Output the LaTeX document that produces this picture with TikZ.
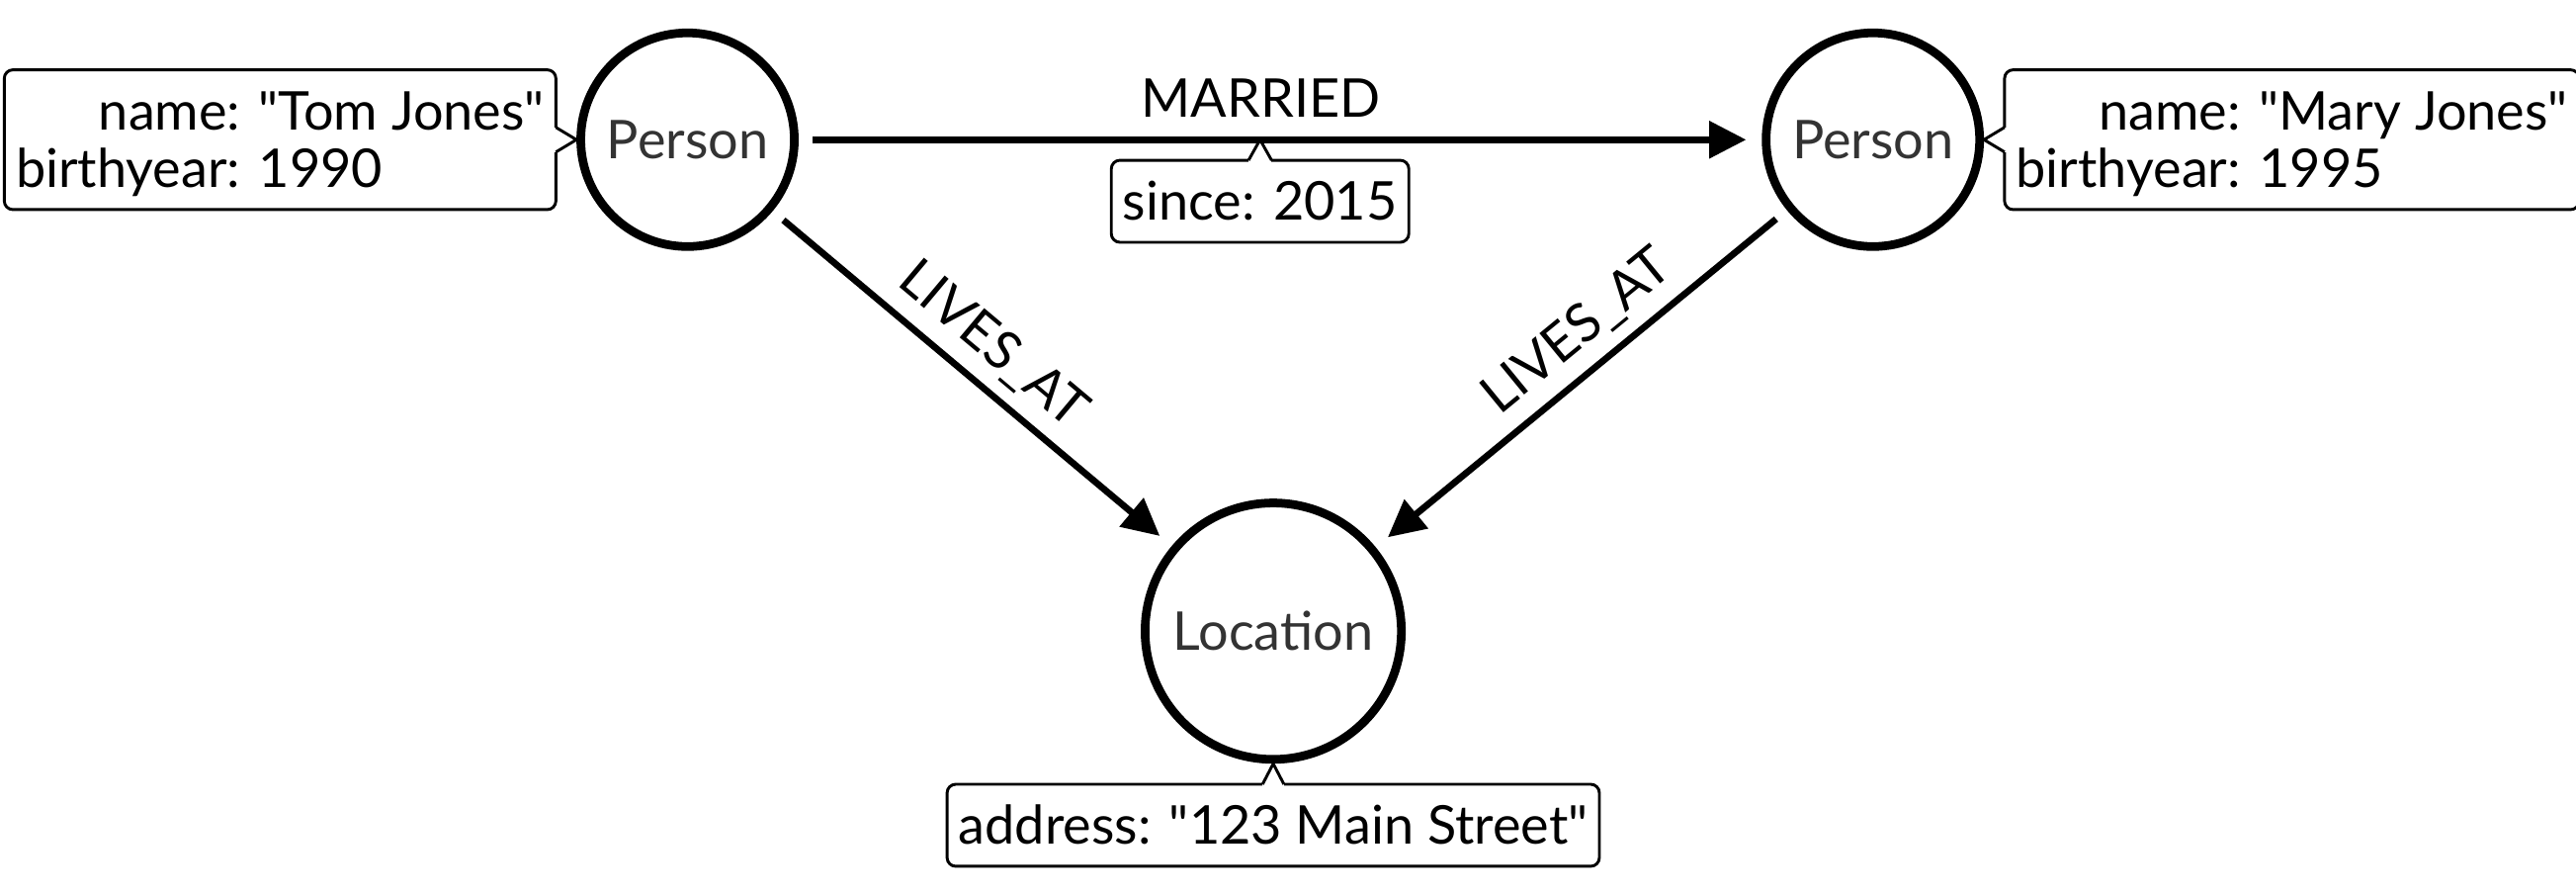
\documentclass[tikz,border=0pt]{standalone}
\usepackage{fontspec}
\setmainfont{Lato}
\usetikzlibrary{arrows.meta,positioning,calc}
\definecolor{black}{RGB}{0,0,0}
\definecolor{white}{RGB}{255,255,255}
\definecolor{dark_gray}{RGB}{51,51,51}

\begin{document}
\begin{tikzpicture}[font=\fontsize{18.5}{20}\selectfont,
	entity/.style={circle,draw=black,line width=3pt,fill=white,text=dark_gray,inner sep=0pt},
	props/.style={draw=black,line width=1pt,rounded corners=3pt,fill=white,inner xsep=4pt,inner ysep=4.2pt,outer sep=0pt,text height=16.5pt,text depth=3.5pt},
	rel/.style={draw=black,line width=2.3pt,-{Triangle[length=0.45cm,width=0.44cm]},shorten <=0.17cm,shorten >=0.19cm},
	rellabel/.style={text=black,text depth=0pt,inner sep=6.8pt}]
	\useasboundingbox (0,0) rectangle (31.36,10.9);

	% nodes
	\node[entity,minimum size=2.6cm] (tom) at (8.37,9.2) {Person};
	\node[entity,minimum size=2.6cm] (mary) at (22.8,9.2) {Person};
	\node[entity,minimum size=3.12cm] (location) at (15.5,3.22) {Location};
	\coordinate (married_at) at ($(tom)!0.483!(mary)$);

	% properties
	\node[props,text depth=23.5pt,left=0.25cm of tom] (tom_props) {\begin{tabular}[t]{@{}l@{}}\hfill name: \textquotedbl{}Tom Jones\textquotedbl\\birthyear: \rlap{1990}\hphantom{\textquotedbl{}Tom Jones\textquotedbl}\end{tabular}};
	\node[props,text depth=23.5pt,right=0.25cm of mary] (mary_props) {\begin{tabular}[t]{@{}l@{}}\hfill name: \textquotedbl{}Mary Jones\textquotedbl\\birthyear: \rlap{1995}\hphantom{\textquotedbl{}Mary Jones\textquotedbl}\end{tabular}};
	\node[props,below=0.25cm of married_at] (since) {since: 2015};
	\node[props,below=0.25cm of location] (location_props) {address: \textquotedbl{}123 Main Street\textquotedbl};

	\foreach \anc/\tip/\dx/\dy in {tom_props.east/tom.west/0/0.15,mary_props.west/mary.east/0/0.15,since.north/married_at/0.14/0,location_props.north/location.south/0.13/0}
	{
		\draw[white,line width=2pt] ($(\anc)+(\dx,\dy)$) -- ($(\anc)-(\dx,\dy)$);
		\draw[black,line width=1pt,fill=white] ($(\anc)+(\dx,\dy)$) -- (\tip) -- ($(\anc)-(\dx,\dy)$);
	}

	% relationships
	\draw[rel] (tom) -- node[rellabel,above,pos=0.48] {MARRIED} (mary);
	\foreach \x/\y/\p in {tom/location/0.49,mary/location/0.45}
		\draw[rel] (\x) -- node[rellabel,above,sloped,pos=\p] {LIVES\_AT} (\y);
\end{tikzpicture}
\end{document}
